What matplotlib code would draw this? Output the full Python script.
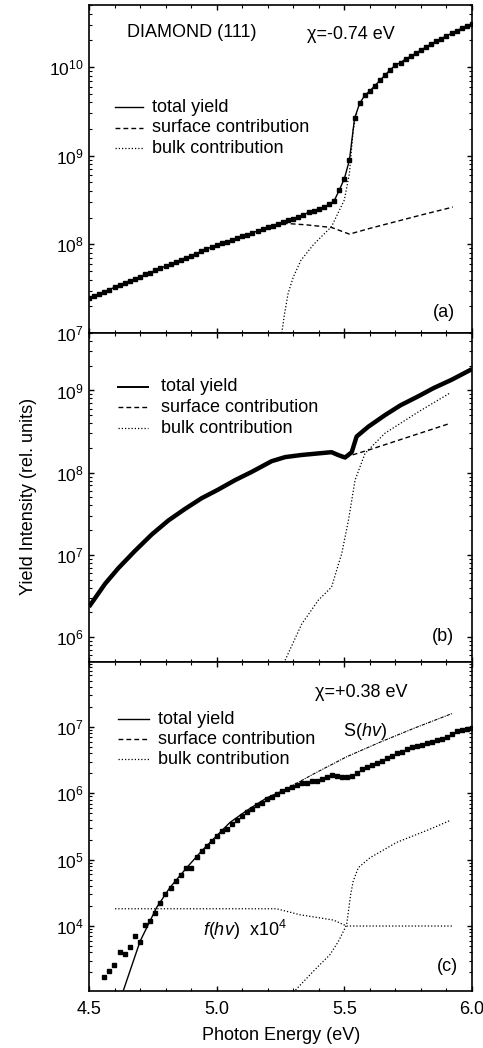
import matplotlib
matplotlib.use("Agg")
import matplotlib.pyplot as plt
import numpy as np
from matplotlib.ticker import LogLocator, MultipleLocator, NullFormatter

plt.rcParams['font.family'] = ['Liberation Sans', 'DejaVu Sans']
plt.rcParams['mathtext.fontset'] = 'custom'
plt.rcParams['mathtext.rm'] = 'Liberation Sans'
plt.rcParams['mathtext.it'] = 'Liberation Sans:italic'
plt.rcParams['mathtext.default'] = 'regular'

# ---------------- (a) chi = -0.74 eV ----------------
# measured yield, log10 values
e_a = [4.50, 4.52, 4.54, 4.56, 4.58, 4.60, 4.62, 4.64, 4.66, 4.68,
       4.70, 4.72, 4.74, 4.76, 4.78, 4.80, 4.82, 4.84, 4.86, 4.88,
       4.90, 4.92, 4.94, 4.96, 4.98, 5.00, 5.02, 5.04, 5.06, 5.08,
       5.10, 5.12, 5.14, 5.16, 5.18, 5.20, 5.22, 5.24, 5.26, 5.28,
       5.30, 5.32, 5.34, 5.36, 5.38, 5.40, 5.42, 5.44, 5.46, 5.48,
       5.50, 5.52, 5.54, 5.56, 5.58, 5.60, 5.62, 5.64, 5.66, 5.68,
       5.70, 5.72, 5.74, 5.76, 5.78, 5.80, 5.82, 5.84, 5.86, 5.88,
       5.90, 5.92, 5.94, 5.96, 5.98, 6.00]
lg_a = [7.39, 7.415, 7.44, 7.465, 7.49, 7.515, 7.54, 7.565, 7.59, 7.61,
        7.635, 7.66, 7.68, 7.705, 7.73, 7.755, 7.78, 7.80, 7.825, 7.85,
        7.87, 7.895, 7.92, 7.945, 7.97, 7.99, 8.01, 8.03, 8.05, 8.07,
        8.09, 8.11, 8.13, 8.15, 8.17, 8.19, 8.21, 8.23, 8.25, 8.27,
        8.29, 8.31, 8.335, 8.36, 8.38, 8.40, 8.42, 8.45, 8.49, 8.61,
        8.74, 8.95, 9.42, 9.59, 9.68, 9.73, 9.79, 9.85, 9.91, 9.97,
        10.02, 10.05, 10.09, 10.12, 10.155, 10.19, 10.225, 10.26, 10.29, 10.32,
        10.35, 10.38, 10.41, 10.435, 10.46, 10.49]
# surface part of the fit
e_a_surf = [5.20, 5.25, 5.35, 5.45, 5.52, 5.60, 5.70, 5.80, 5.925]
lg_a_surf = [8.19, 8.24, 8.22, 8.19, 8.115, 8.18, 8.255, 8.33, 8.42]
# bulk part of the fit
e_a_bulk = [5.255, 5.265, 5.28, 5.30, 5.33, 5.38, 5.45, 5.50, 5.52, 5.535, 5.55]
lg_a_bulk = [7.0, 7.2, 7.45, 7.63, 7.82, 8.0, 8.2, 8.5, 8.8, 9.3, 9.5]

# ---------------- (b) ----------------
e_b = [4.50, 4.563, 4.615, 4.680, 4.746, 4.811, 4.876, 4.941, 5.006, 5.072,
       5.137, 5.215, 5.268, 5.33, 5.398, 5.45, 5.476, 5.503, 5.529, 5.548,
       5.594, 5.659, 5.72, 5.790, 5.85, 5.920, 6.00]
lg_b = [6.37, 6.65, 6.84, 7.05, 7.25, 7.42, 7.56, 7.69, 7.795, 7.91,
        8.01, 8.14, 8.19, 8.215, 8.235, 8.25, 8.215, 8.185, 8.25, 8.44,
        8.56, 8.70, 8.82, 8.93, 9.03, 9.13, 9.26]
e_b_surf = [5.503, 5.594, 5.914]
lg_b_surf = [8.19, 8.275, 8.60]
e_b_bulk = [5.268, 5.333, 5.398, 5.45, 5.49, 5.516, 5.542, 5.581, 5.659,
            5.790, 5.914]
lg_b_bulk = [5.72, 6.16, 6.45, 6.61, 7.02, 7.42, 7.91, 8.235, 8.48,
             8.74, 8.97]

# ---------------- (c) chi = +0.38 eV ----------------
e_c = [4.560, 4.578, 4.599, 4.620, 4.641, 4.659, 4.680, 4.700, 4.719, 4.739,
       4.759, 4.778, 4.798, 4.820, 4.840, 4.860, 4.880, 4.900, 4.922, 4.941,
       4.961, 4.981, 5.000, 5.020, 5.040, 5.059, 5.079, 5.098, 5.118, 5.137,
       5.157, 5.177, 5.196, 5.216, 5.235, 5.255, 5.275, 5.294, 5.313, 5.333,
       5.353, 5.373, 5.392, 5.412, 5.431, 5.451, 5.471, 5.490, 5.510, 5.529,
       5.549, 5.569, 5.588, 5.608, 5.627, 5.647, 5.667, 5.686, 5.706, 5.725,
       5.745, 5.765, 5.784, 5.804, 5.824, 5.843, 5.863, 5.882, 5.902, 5.922,
       5.941, 5.961, 5.980, 6.000]
lg_c = [3.23, 3.32, 3.41, 3.61, 3.58, 3.69, 3.85, 3.76, 4.01, 4.08,
        4.20, 4.34, 4.48, 4.57, 4.68, 4.77, 4.88, 4.88, 5.04, 5.13,
        5.21, 5.28, 5.35, 5.43, 5.46, 5.54, 5.59, 5.66, 5.72, 5.77,
        5.82, 5.86, 5.91, 5.94, 5.99, 6.04, 6.07, 6.10, 6.13, 6.15,
        6.16, 6.18, 6.19, 6.22, 6.25, 6.27, 6.26, 6.24, 6.24, 6.26,
        6.31, 6.36, 6.40, 6.42, 6.45, 6.48, 6.53, 6.56, 6.60, 6.62,
        6.66, 6.69, 6.71, 6.73, 6.75, 6.78, 6.80, 6.82, 6.85, 6.90,
        6.94, 6.95, 6.97, 6.98]
# total yield fit below threshold
e_c_fit = [4.632, 4.70, 4.742, 4.765, 4.817, 4.883, 4.941, 5.00, 5.052, 5.118,
           5.196, 5.261]
lg_c_fit = [3.0, 3.77, 4.10, 4.28, 4.58, 4.88, 5.13, 5.36, 5.56, 5.74,
            5.93, 6.04]
# S(hv)
e_c_s = [5.261, 5.379, 5.509, 5.640, 5.770, 5.921]
lg_c_s = [6.04, 6.29, 6.55, 6.77, 6.975, 7.20]
# f(hv) x 1e4
e_c_f = [4.602, 5.235, 5.326, 5.457, 5.509, 5.927]
lg_c_f = [4.26, 4.26, 4.17, 4.09, 4.0, 4.0]
# bulk contribution
e_c_bulk = [5.30, 5.379, 5.444, 5.477, 5.509, 5.525, 5.535, 5.555, 5.601,
            5.705, 5.836, 5.914]
lg_c_bulk = [3.0, 3.32, 3.57, 3.77, 4.02, 4.48, 4.68, 4.88, 5.03,
             5.26, 5.46, 5.59]


def p(v):
    return 10 ** np.array(v)


fig = plt.figure(figsize=(4.83, 10.48), dpi=100)
x0, w = 89 / 483, 383 / 483
ax_a = fig.add_axes([x0, 1 - 333 / 1048, w, 328 / 1048])
ax_b = fig.add_axes([x0, 1 - 662 / 1048, w, 329 / 1048])
ax_c = fig.add_axes([x0, 1 - 991 / 1048, w, 329 / 1048])

dot = (0, (1, 1.6))
dash = (0, (3.5, 2.2))


def key(ax, xl, xt, y, ls, text, lw=1.0):
    ax.plot(xl, [y, y], transform=ax.transAxes, color='k', ls=ls, lw=lw)
    ax.text(xt, y, text, transform=ax.transAxes, va='center', ha='left', fontsize=13)


# (a)
ax_a.plot(e_a, p(lg_a), 'k-', lw=1.0)
ax_a.plot(e_a, p(lg_a), 'ks', ms=2.4)
ax_a.plot(e_a_surf, p(lg_a_surf), color='k', ls=dash, lw=1.0)
ax_a.plot(e_a_bulk, p(lg_a_bulk), color='k', ls=dot, lw=0.9)
ax_a.set_ylim(1e7, 5e10)
ax_a.text(0.099, 0.915, 'DIAMOND (111)', transform=ax_a.transAxes, fontsize=13, va='center')
ax_a.text(0.569, 0.909, 'χ=-0.74 eV', transform=ax_a.transAxes, fontsize=13, va='center')
ax_a.text(0.898, 0.064, '(a)', transform=ax_a.transAxes, fontsize=13, va='center')
key(ax_a, [0.068, 0.141], 0.164, 0.689, '-', 'total yield')
key(ax_a, [0.068, 0.141], 0.164, 0.625, dash, 'surface contribution')
key(ax_a, [0.068, 0.141], 0.164, 0.564, dot, 'bulk contribution', lw=0.9)

# (b)
ax_b.plot(e_b, p(lg_b), 'k-', lw=3.2, solid_capstyle='butt', solid_joinstyle='round')
ax_b.plot(e_b_surf, p(lg_b_surf), color='k', ls=dash, lw=1.0)
ax_b.plot(e_b_bulk, p(lg_b_bulk), color='k', ls=dot, lw=0.9)
ax_b.set_ylim(5e5, 5e9)
ax_b.text(0.896, 0.076, '(b)', transform=ax_b.transAxes, fontsize=13, va='center')
key(ax_b, [0.076, 0.154], 0.188, 0.837, '-', 'total yield', lw=1.4)
key(ax_b, [0.076, 0.154], 0.188, 0.774, dash, 'surface contribution')
key(ax_b, [0.076, 0.154], 0.188, 0.710, dot, 'bulk contribution', lw=0.9)

# (c)
ax_c.plot(e_c, p(lg_c), 'ks', ms=2.3)
ax_c.plot(e_c_fit, p(lg_c_fit), 'k-', lw=1.0)
ax_c.plot(e_c_s, p(lg_c_s), color='k', ls=(0, (3, 1, 1, 1)), lw=0.8)
ax_c.plot(e_c_f, p(lg_c_f), color='k', ls=dot, lw=0.9)
ax_c.plot(e_c_bulk, p(lg_c_bulk), color='k', ls=dot, lw=0.9)
ax_c.set_ylim(1.05e3, 9.5e7)
ax_c.text(0.590, 0.906, 'χ=+0.38 eV', transform=ax_c.transAxes, fontsize=13, va='center')
ax_c.text(0.663, 0.790, 'S($\\mathit{hv}$)', transform=ax_c.transAxes, fontsize=13, va='center')
ax_c.text(0.298, 0.185, '$\\mathit{f}$($\\mathit{hv}$)  x10$^4$', transform=ax_c.transAxes,
          fontsize=13, va='center')
ax_c.text(0.909, 0.073, '(c)', transform=ax_c.transAxes, fontsize=13, va='center')
key(ax_c, [0.076, 0.157], 0.180, 0.826, '-', 'total yield')
key(ax_c, [0.076, 0.157], 0.180, 0.765, dash, 'surface contribution')
key(ax_c, [0.076, 0.157], 0.180, 0.704, dot, 'bulk contribution', lw=0.9)

for ax in (ax_a, ax_b, ax_c):
    ax.set_yscale('log')
    ax.set_xlim(4.5, 6.0)
    ax.xaxis.set_major_locator(MultipleLocator(0.5))
    ax.xaxis.set_minor_locator(MultipleLocator(0.1))
    ax.yaxis.set_major_locator(LogLocator(base=10, numticks=20))
    ax.yaxis.set_minor_locator(LogLocator(base=10, subs=np.arange(2, 10), numticks=20))
    ax.yaxis.set_minor_formatter(NullFormatter())
    ax.tick_params(which='both', direction='in', top=True, right=True, labelsize=12.5)
    ax.tick_params(which='major', length=3.8, width=1.0, pad=4)
    ax.tick_params(which='minor', length=2.2, width=0.8)
    for s in ax.spines.values():
        s.set_linewidth(1.2)

ax_a.tick_params(labelbottom=False)
ax_b.tick_params(labelbottom=False)
ax_c.set_xticks([4.5, 5.0, 5.5, 6.0])
ax_c.set_xticklabels(['4.5', '5.0', '5.5', '6.0'])
ax_c.tick_params(axis='x', which='major', pad=7, labelsize=13)

fig.text(0.058, 0.526, 'Yield Intensity (rel. units)', rotation=90, fontsize=13,
         ha='center', va='center')
fig.text(0.582, 0.0124, 'Photon Energy (eV)', fontsize=13, ha='center', va='center')

fig.savefig('out.png', dpi=100)
